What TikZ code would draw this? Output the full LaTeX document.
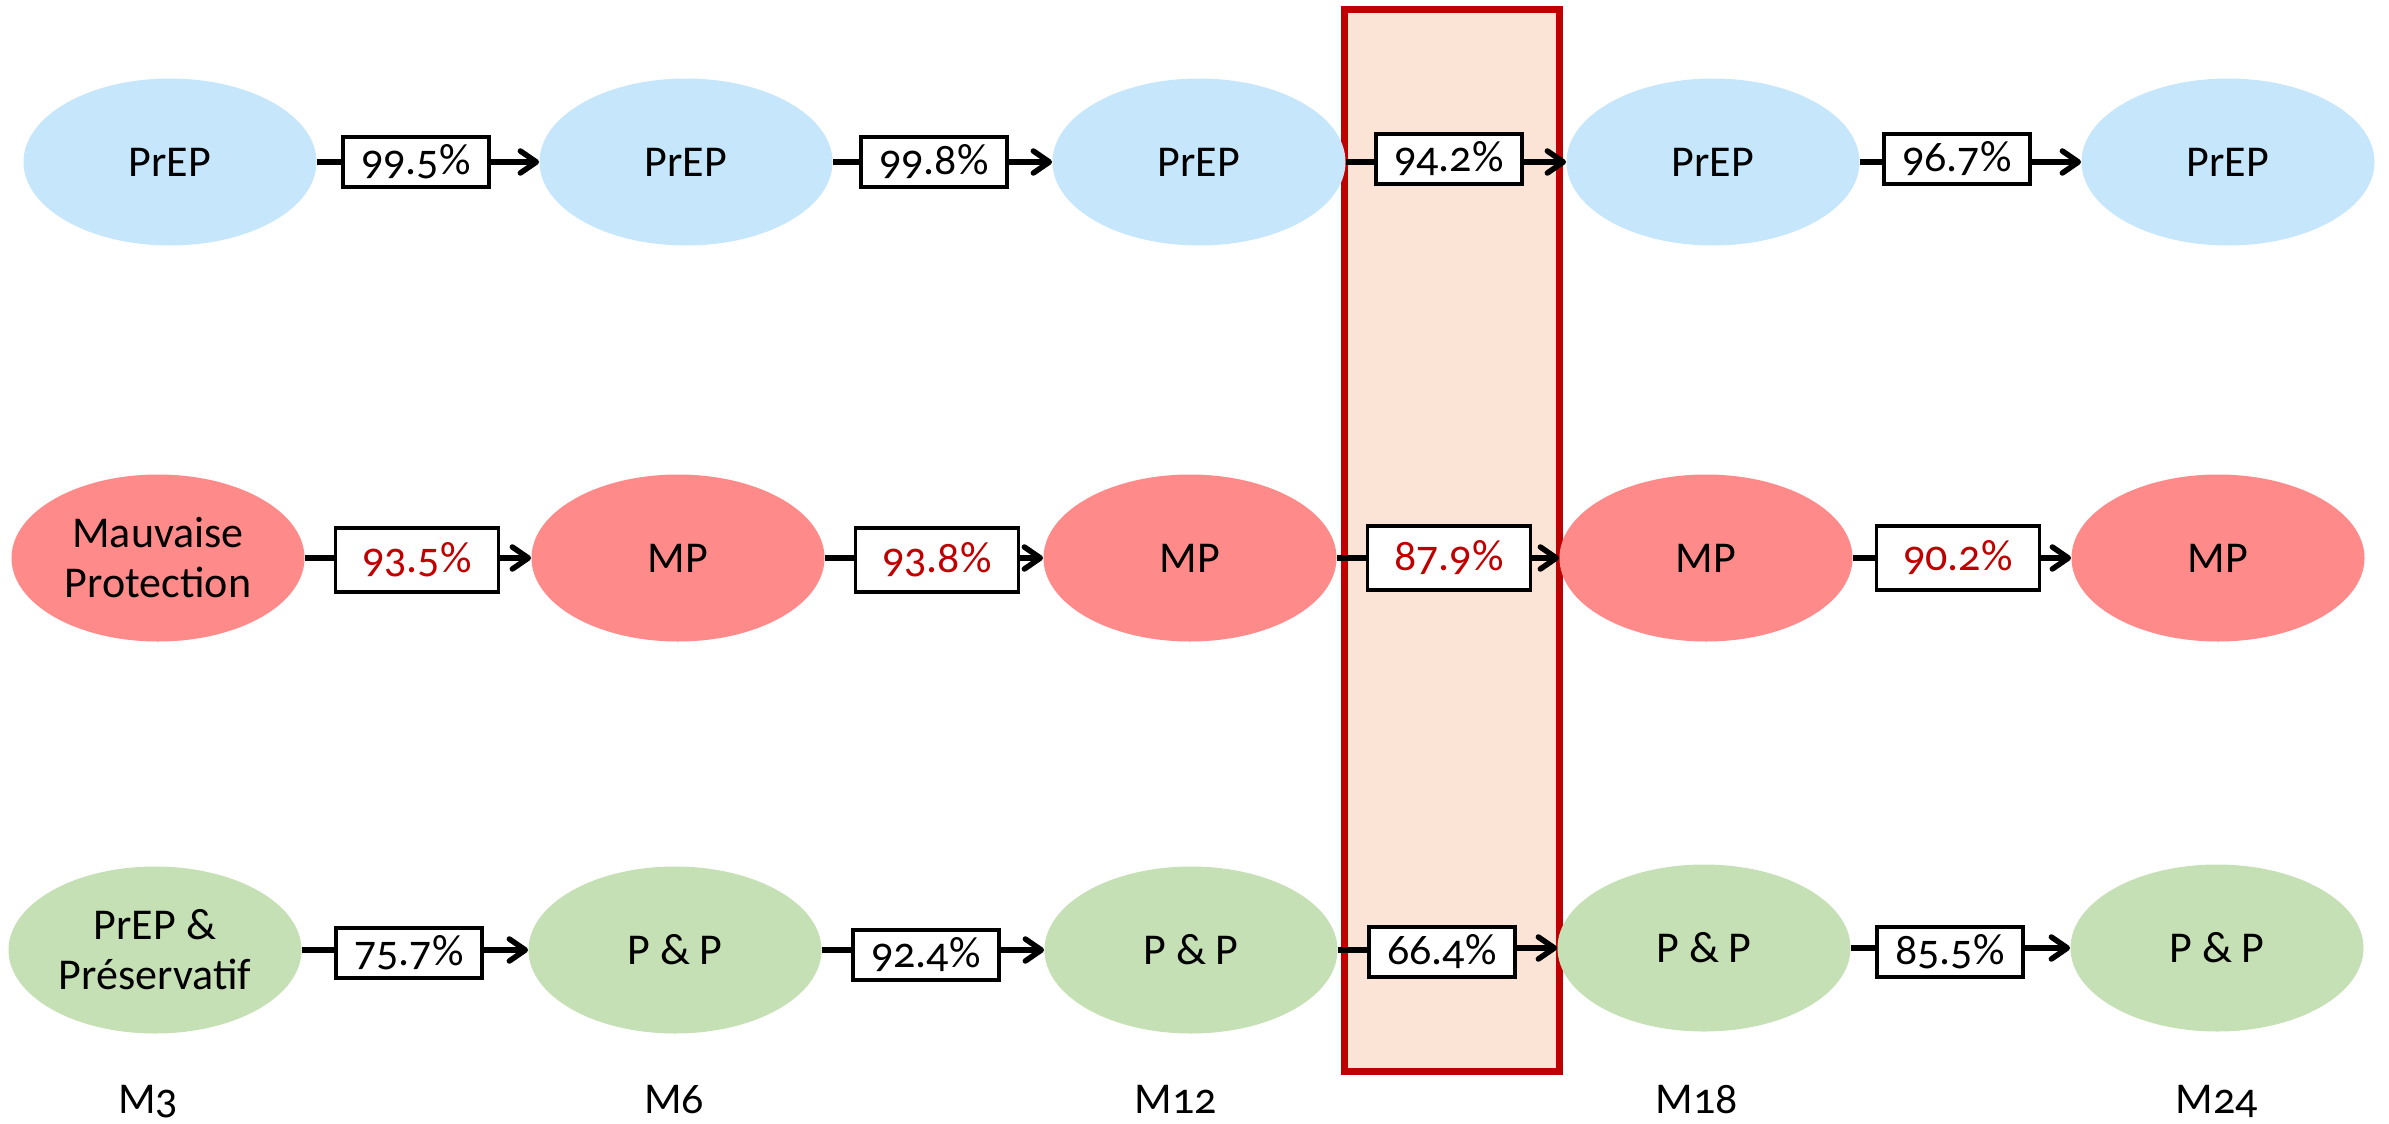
\documentclass[tikz,border=0pt]{standalone}
\usepackage{fontspec}
\setmainfont{Carlito}[Numbers=OldStyle]
\usetikzlibrary{
  arrows.meta,
  shapes.geometric
}

\definecolor{prepblue}{HTML}{C6E6FC}
\definecolor{mpred}{HTML}{FF8A8A}
\definecolor{ppgreen}{HTML}{C5E0B4}
\definecolor{darkred}{HTML}{C00000}
\definecolor{peach}{HTML}{FBE3D6}

\begin{document}
\begin{tikzpicture}[
  x=0.5pt, y=-0.5pt,
  >={Straight Barb[length=8pt,width=11pt,line cap=round,line join=round]},
  every node/.style={font=\fontsize{22}{25}\selectfont},
  state/.style={ellipse,minimum width=146.5pt,minimum height=83.5pt,inner sep=0pt,align=center},
  prep/.style={state,fill=prepblue},
  mp/.style={state,fill=mpred},
  pp/.style={state,fill=ppgreen},
  rate/.style={draw,line width=1.75pt,fill=white,minimum width=73pt,minimum height=25pt,
    inner sep=0pt,text height=15pt,text depth=3pt},
  bigrate/.style={rate,minimum width=81.5pt,minimum height=32pt,text=darkred},
  link/.style={line width=2.75pt},
]
\useasboundingbox (0,0) rectangle (2389,1124);

% month 12 -> 18 highlighted
\draw[darkred,line width=3.5pt,fill=peach] (1344.5,9.5) rectangle (1559.5,1071.5);

% PrEP row
\node[prep] (prep1) at (170,162) {PrEP};
\node[prep] (prep2) at (686,162) {PrEP};
\node[prep] (prep3) at (1199,162) {PrEP};
\node[prep] (prep4) at (1713,162) {PrEP};
\node[prep] (prep5) at (2228,162) {PrEP};
\node[rate] (prep-r1) at (416,162) {99.5\%};
\node[rate] (prep-r2) at (934,162) {99.8\%};
\node[rate] (prep-r3) at (1449,159) {94.2\%};
\node[rate] (prep-r4) at (1957,159) {96.7\%};

% mauvaise protection row
\node[mp] (mp1) at (158,558) {Mauvaise\\Protection};
\node[mp] (mp2) at (678,558) {MP};
\node[mp] (mp3) at (1190,558) {MP};
\node[mp] (mp4) at (1706,558) {MP};
\node[mp] (mp5) at (2218,558) {MP};
\node[bigrate] (mp-r1) at (417,560) {93.5\%};
\node[bigrate] (mp-r2) at (937,560) {93.8\%};
\node[bigrate] (mp-r3) at (1449,558) {87.9\%};
\node[bigrate] (mp-r4) at (1958,558) {90.2\%};

% PrEP + preservatif row
\node[pp] (pp1) at (155,950) {PrEP \&\\Préservatif};
\node[pp] (pp2) at (675,950) {P \& P};
\node[pp] (pp3) at (1191,950) {P \& P};
\node[pp] (pp4) at (1704,948) {P \& P};
\node[pp] (pp5) at (2217,948) {P \& P};
\node[rate] (pp-r1) at (409,953) {75.7\%};
\node[rate] (pp-r2) at (926,955) {92.4\%};
\node[rate] (pp-r3) at (1442,952) {66.4\%};
\node[rate] (pp-r4) at (1950,952) {85.5\%};

\foreach \row in {prep,mp,pp} {
  \foreach \i [evaluate=\i as \j using int(\i+1)] in {1,...,4} {
    \draw[link] (\row\i) -- (\row\i -| \row-r\i.west);
    \draw[link,->] (\row-r\i.east |- \row\j) -- (\row\j);
  }
}

% months
\node[anchor=base] (m3) at (148,1113) {M3};
\node[anchor=base] (m6) at (674,1113) {M6};
\node[anchor=base] (m12) at (1176,1113) {M12};
\node[anchor=base] (m18) at (1697,1113) {M18};
\node[anchor=base] (m24) at (2217,1113) {M24};
\end{tikzpicture}
\end{document}
